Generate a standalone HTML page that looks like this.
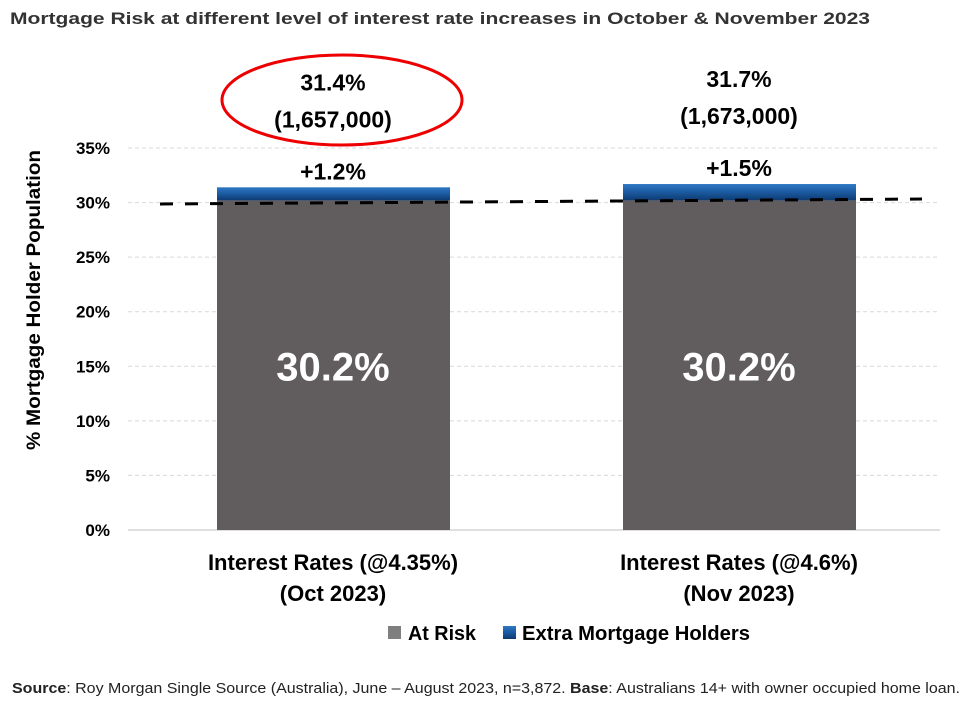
<!DOCTYPE html>
<html><head><meta charset="utf-8"><style>
body{margin:0;background:#fff;width:966px;height:701px;overflow:hidden;font-family:"Liberation Sans",sans-serif}
</style></head><body>
<svg id="chart" width="966" height="701" xmlns="http://www.w3.org/2000/svg">
<defs><linearGradient id="bg" x1="0" y1="0" x2="0" y2="1"><stop offset="0" stop-color="#2f78c4"/><stop offset="0.5" stop-color="#1b5aa0"/><stop offset="1" stop-color="#0e3a70"/></linearGradient></defs>
<text x="10" y="24" font-size="17" font-weight="bold" fill="#333" textLength="860" lengthAdjust="spacingAndGlyphs">Mortgage Risk at different level of interest rate increases in October &amp; November 2023</text>
<g id="grid"></g><g id="yt"></g><g id="bars"></g>
<text transform="translate(40,300) rotate(-90)" text-anchor="middle" font-size="19" font-weight="bold" fill="#000" textLength="300" lengthAdjust="spacingAndGlyphs">% Mortgage Holder Population</text>
<line x1="160" y1="204" x2="922" y2="199" stroke="#000" stroke-width="3" stroke-dasharray="13,12"/>
<ellipse cx="342" cy="100" rx="120" ry="45" fill="none" stroke="#e00" stroke-width="3"/>
<g>
<rect x="388" y="626" width="13" height="13" fill="#7f7f7f"/>
<text x="408" y="640" font-size="20" font-weight="bold" textLength="68" lengthAdjust="spacingAndGlyphs">At Risk</text>
<rect x="503" y="626" width="13" height="13" fill="url(#bg)"/>
<text x="522" y="640" font-size="20" font-weight="bold" textLength="228" lengthAdjust="spacingAndGlyphs">Extra Mortgage Holders</text></g>
<text x="12" y="693" font-size="15" fill="#222" textLength="948" lengthAdjust="spacingAndGlyphs"><tspan font-weight="bold">Source</tspan>: Roy Morgan Single Source (Australia), June – August 2023, n=3,872. <tspan font-weight="bold">Base</tspan>: Australians 14+ with owner occupied home loan.</text>
</svg>
<script>
const categories=["Interest Rates (@4.35%)|(Oct 2023)","Interest Rates (@4.6%)|(Nov 2023)"];
const atRisk=[30.2,30.2];
const extra=[1.2,1.5];
const totals=["31.4%","31.7%"];
const people=["(1,657,000)","(1,673,000)"];
const ticks=[0,5,10,15,20,25,30,35];
const NS="http://www.w3.org/2000/svg";
const y=v=>530-v*10.914;
const cx=i=>333+i*406;
function mk(t,a,p,txt){const e=document.createElementNS(NS,t);for(const k in a)e.setAttribute(k,a[k]);if(txt!==undefined)e.textContent=txt;p.appendChild(e);return e;}
const G=document.getElementById('grid'),YT=document.getElementById('yt'),B=document.getElementById('bars');
ticks.forEach(t=>{
 const l=mk('line',{x1:128,x2:940,y1:y(t),y2:y(t),stroke:t===0?'#bfbfbf':'#d9d9d9','stroke-dasharray':t===0?'':'4,3'},G);
 
 
 const tx=mk('text',{x:110,y:y(t)+6,'text-anchor':'end','font-size':17,'font-weight':'bold'},YT,t+'%');
 
 
});
categories.forEach((c,i)=>{
 const x=cx(i)-116,w=233;
 const top=y(atRisk[i]+extra[i]);
 const r1=mk('rect',{x:x,y:y(atRisk[i]),width:w,height:y(0)-y(atRisk[i]),fill:'#615c5d'},B);
 
 
 const r2=mk('rect',{x:x,y:top,width:w,height:y(atRisk[i])-top,fill:'url(#bg)'},B);
 
 
 const v=mk('text',{x:cx(i),y:y(15)+14,'text-anchor':'middle','font-size':40,'font-weight':'bold',fill:'#fff'},B,atRisk[i].toFixed(1)+'%');
 
 
 const d=mk('text',{x:cx(i),y:top-8,'text-anchor':'middle','font-size':23,'font-weight':'bold'},B,'+'+extra[i].toFixed(1)+'%');
 
 
 const t1=mk('text',{x:cx(i),y:top-97,'text-anchor':'middle','font-size':23,'font-weight':'bold'},B,totals[i]);
 
 
 const t2=mk('text',{x:cx(i),y:top-60,'text-anchor':'middle','font-size':23,'font-weight':'bold'},B,people[i]);
 
 
 c.split('|').forEach((s,j)=>{
  const ct=mk('text',{x:cx(i),y:570+j*31,'text-anchor':'middle','font-size':22,'font-weight':'bold'},B,s);
  
  
 });
});
</script>
</body></html>
